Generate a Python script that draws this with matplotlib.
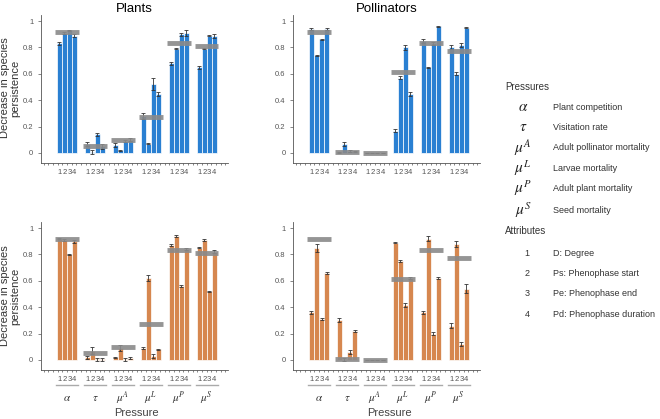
import numpy as np
import matplotlib
matplotlib.use("Agg")
import matplotlib.pyplot as plt
from matplotlib.ticker import MultipleLocator

plt.rcParams["font.family"] = ["Liberation Sans", "DejaVu Sans"]
plt.rcParams["mathtext.fontset"] = "stix"

# ======================================================
# DATA
# ======================================================

pressures = [r"$\alpha$", r"$\tau$", r"$\mu^A$", r"$\mu^L$", r"$\mu^P$", r"$\mu^S$"]
attributes = ["1", "2", "3", "4"]

# baseline (gray bars) per pressure
plants_base = [0.92, 0.055, 0.10, 0.27, 0.83, 0.81]
poll_base = [0.92, 0.01, 0.0, 0.61, 0.83, 0.77]

# top row (blue)
plants_top = [
    [0.83, 0.91, 0.93, 0.89],
    [0.07, 0.01, 0.14, 0.05],
    [0.06, 0.02, 0.09, 0.10],
    [0.28, 0.07, 0.52, 0.45],
    [0.68, 0.79, 0.90, 0.91],
    [0.65, 0.79, 0.89, 0.89],
]
plants_top_err = [
    [0.01, 0.01, 0.005, 0.01],
    [0.015, 0.015, 0.01, 0.02],
    [0.015, 0.005, 0.01, 0.01],
    [0.02, 0.005, 0.045, 0.015],
    [0.01, 0.005, 0.01, 0.02],
    [0.01, 0.005, 0.005, 0.015],
]
poll_top = [
    [0.94, 0.74, 0.86, 0.94],
    [0.005, 0.07, 0.015, 0.01],
    [0.0, 0.0, 0.0, 0.0],
    [0.17, 0.57, 0.80, 0.45],
    [0.85, 0.65, 0.83, 0.96],
    [0.80, 0.60, 0.82, 0.95],
]
poll_top_err = [
    [0.005, 0.005, 0.005, 0.01],
    [0.005, 0.015, 0.005, 0.005],
    [0.002, 0.002, 0.002, 0.002],
    [0.01, 0.01, 0.02, 0.015],
    [0.015, 0.005, 0.01, 0.005],
    [0.015, 0.01, 0.015, 0.005],
]

# bottom row (orange)
plants_bot = [
    [0.92, 0.91, 0.80, 0.90],
    [0.02, 0.07, 0.005, 0.005],
    [0.02, 0.09, 0.005, 0.015],
    [0.09, 0.62, 0.03, 0.08],
    [0.87, 0.94, 0.56, 0.84],
    [0.85, 0.91, 0.52, 0.82],
]
plants_bot_err = [
    [0.005, 0.01, 0.005, 0.01],
    [0.01, 0.025, 0.01, 0.01],
    [0.005, 0.02, 0.01, 0.01],
    [0.005, 0.025, 0.015, 0.005],
    [0.01, 0.01, 0.01, 0.01],
    [0.005, 0.01, 0.005, 0.01],
]
poll_bot = [
    [0.36, 0.85, 0.31, 0.66],
    [0.30, 0.005, 0.06, 0.22],
    [0.0, 0.0, 0.0, 0.0],
    [0.89, 0.75, 0.42, 0.62],
    [0.36, 0.92, 0.20, 0.62],
    [0.26, 0.88, 0.12, 0.54],
]
poll_bot_err = [
    [0.01, 0.03, 0.005, 0.005],
    [0.015, 0.01, 0.015, 0.01],
    [0.002, 0.002, 0.002, 0.002],
    [0.005, 0.01, 0.015, 0.01],
    [0.01, 0.02, 0.01, 0.005],
    [0.02, 0.025, 0.015, 0.035],
]

pressure_names = ["Plant competition", "Visitation rate", "Adult pollinator mortality",
                  "Larvae mortality", "Adult plant mortality", "Seed mortality"]
attribute_names = ["D: Degree", "Ps: Phenophase start", "Pe: Phenophase end",
                   "Pd: Phenophase duration"]

BLUE = "#2a80d2"
ORANGE = "#d6874f"
GRAY = "#8a8a8a"
AXC = "#555555"

# ======================================================
# FIGURE
# ======================================================

fig = plt.figure(figsize=(6.6, 4.19), dpi=100)

w = 0.18
offsets = (np.arange(4) - 1.5) * w
groups = np.arange(len(pressures))


def fy(py):
    return 1 - py / 419


def fx(px):
    return px / 660


def draw_panel(ax, vals, errs, base, color, bottom_row):
    xs_all = []
    for g in groups:
        xs = g + offsets
        xs_all.extend(xs)
        ax.bar(xs, vals[g], width=w, color=color, edgecolor="white", linewidth=0.5, zorder=2)
        ax.errorbar(xs, vals[g], yerr=errs[g], fmt="none", ecolor="#333333",
                    elinewidth=0.6, capsize=1.2, capthick=0.6, zorder=3)
        ax.hlines(base[g], g - 0.42, g + 0.42, color=GRAY, lw=3.5, alpha=0.9, zorder=4)
    ax.set_xlim(-0.93, 5.75)
    ax.set_ylim(-0.076, 1.045)
    ax.set_yticks([0, 0.2, 0.4, 0.6, 0.8, 1])
    ax.set_yticklabels(["0", "0.2", "0.4", "0.6", "0.8", "1"])
    ax.set_xticks(xs_all)
    ax.set_xticklabels(attributes * len(pressures))
    ax.xaxis.set_minor_locator(MultipleLocator(1 / 6))
    ax.tick_params(axis="x", which="major", length=0, pad=4, labelsize=5.5, colors=AXC)
    ax.tick_params(axis="x", which="minor", length=1.5, width=0.5, color=AXC, direction="out")
    ax.tick_params(axis="y", length=2, width=0.5, labelsize=5.5, colors=AXC)
    for s in ["top", "right"]:
        ax.spines[s].set_visible(False)
    for s in ["left", "bottom"]:
        ax.spines[s].set_color(AXC)
        ax.spines[s].set_linewidth(0.6)
    if bottom_row:
        trans = ax.get_xaxis_transform()
        for g in groups:
            ax.plot([g - 0.4, g + 0.4], [-0.10, -0.10], transform=trans, color="#aaaaaa",
                    lw=1.0, clip_on=False)
            ax.text(g, -0.19, pressures[g], transform=trans, ha="center", va="center",
                    fontsize=8, color="#333333")
        ax.text(2.5, -0.29, "Pressure", transform=trans, ha="center", va="center",
                fontsize=8, color="#444444")


ax1 = fig.add_axes([0.062, 0.611, 0.283, 0.353])
ax2 = fig.add_axes([0.444, 0.611, 0.283, 0.353])
ax3 = fig.add_axes([0.062, 0.117, 0.283, 0.353])
ax4 = fig.add_axes([0.444, 0.117, 0.283, 0.353])

draw_panel(ax1, plants_top, plants_top_err, plants_base, BLUE, False)
draw_panel(ax2, poll_top, poll_top_err, poll_base, BLUE, False)
draw_panel(ax3, plants_bot, plants_bot_err, plants_base, ORANGE, True)
draw_panel(ax4, poll_bot, poll_bot_err, poll_base, ORANGE, True)

ax1.set_title("Plants", fontsize=9.5, pad=2)
ax2.set_title("Pollinators", fontsize=9.5, pad=2)
for yy in [88, 296]:
    fig.text(fx(10), fy(yy), "Decrease in species\npersistence", rotation=90,
             ha="center", va="center", fontsize=8, color="#333333", linespacing=1.1)

# ======================================================
# LEGEND TEXT
# ======================================================

fig.text(fx(505), fy(87), "Pressures", fontsize=7, va="center", ha="left", color="#333333")
sym_y = [107, 127, 148, 168, 188, 210]
for sym, name, yy in zip(pressures, pressure_names, sym_y):
    fig.text(fx(523), fy(yy), sym, fontsize=11, va="center", ha="center", color="#222222")
    fig.text(fx(553), fy(yy), name, fontsize=6.5, va="center", ha="left", color="#333333")

fig.text(fx(505), fy(231), "Attributes", fontsize=7, va="center", ha="left", color="#333333")
att_y = [253, 273, 293, 314]
for a, name, yy in zip(attributes, attribute_names, att_y):
    fig.text(fx(527), fy(yy), a, fontsize=6.5, va="center", ha="center", color="#333333")
    fig.text(fx(553), fy(yy), name, fontsize=6.5, va="center", ha="left", color="#333333")

plt.savefig("out.png", dpi=100)
